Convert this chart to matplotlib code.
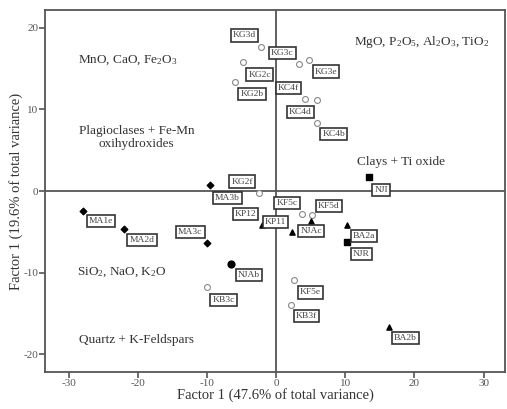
import matplotlib
matplotlib.use('Agg')
import matplotlib.pyplot as plt

plt.rcParams['font.family'] = ['Liberation Serif', 'DejaVu Serif']
plt.rcParams['mathtext.fontset'] = 'custom'
plt.rcParams['mathtext.rm'] = 'Liberation Serif'
plt.rcParams['mathtext.default'] = 'regular'
plt.rcParams['axes.unicode_minus'] = False

# Samples: open circles
open_names = ['KG3d', 'KG2c', 'KG2b', 'KG2f', 'KG3c', 'KG3e', 'KC4f', 'KC4d',
              'KC4b', 'KF5c', 'KF5d', 'KF5e', 'KB3f', 'KB3c']
open_x = [-2.2, -4.8, -5.9, -2.5, 3.3, 4.8, 4.2, 5.9, 5.9, 3.8, 5.2, 2.6, 2.2, -10.0]
open_y = [17.7, 15.8, 13.4, -0.2, 15.5, 16.0, 11.3, 11.2, 8.3, -2.8, -3.0, -10.9, -14.0, -11.8]

# filled diamonds
dia_names = ['MA1e', 'MA2d', 'MA3c', 'MA3b']
dia_x = [-27.9, -22.0, -10.0, -9.5]
dia_y = [-2.5, -4.6, -6.4, 0.7]

# filled circle
fc_names = ['NJAb']
fc_x = [-6.5]
fc_y = [-8.9]

# triangles
tri_names = ['KP12', 'KP11', 'NJAc', 'BA2a', 'BA2b']
tri_x = [-2.0, 2.3, 5.1, 10.3, 16.3]
tri_y = [-4.2, -5.0, -3.7, -4.2, -16.7]

# squares
sq_names = ['NJI', 'NJR']
sq_x = [13.4, 10.3]
sq_y = [1.7, -6.2]

# label offsets (points) from each marker
offsets = {
    'KG3d': (-12, 8), 'KG2c': (12, -9), 'KG2b': (12, -9), 'KG2f': (-12, 8),
    'KG3c': (-12, 8), 'KG3e': (12, -8), 'KC4f': (-12, 8), 'KC4d': (-12, -9),
    'KC4b': (12, -8), 'KF5c': (-11, 8), 'KF5d': (12, 7), 'KF5e': (12, -9),
    'KB3f': (11, -8), 'KB3c': (12, -9), 'MA1e': (13, -7), 'MA2d': (13, -8),
    'MA3c': (-12, 8), 'MA3b': (12, -9), 'NJAb': (13, -8), 'KP12': (-12, 8),
    'KP11': (-12, 7), 'NJAc': (0, -7), 'BA2a': (12, -8), 'BA2b': (12, -8),
    'NJR': (10, -9), 'NJI': (9, -9),
}

fig = plt.figure(figsize=(5.07, 4.09), dpi=100)
ax = fig.add_axes([0.089, 0.09, 0.907, 0.886])

gray = '#555555'
ax.axhline(0, color=gray, lw=1.3, zorder=1)
ax.axvline(0, color=gray, lw=1.3, zorder=1)

ax.scatter(open_x, open_y, s=18, facecolors='white', edgecolors='#888888', linewidths=0.8, zorder=3)
ax.scatter(dia_x, dia_y, s=11, marker='D', color='black', zorder=3)
ax.scatter(fc_x, fc_y, s=24, marker='o', color='black', zorder=3)
ax.scatter(tri_x, tri_y, s=14, marker='^', color='black', zorder=3)
ax.scatter(sq_x, sq_y, s=14, marker='s', color='black', zorder=3)

box = dict(boxstyle='square,pad=0.22', fc='white', ec='#333333', lw=1.2)
for names, xs, ys in [(open_names, open_x, open_y), (dia_names, dia_x, dia_y),
                      (fc_names, fc_x, fc_y), (tri_names, tri_x, tri_y),
                      (sq_names, sq_x, sq_y)]:
    for n, x, y in zip(names, xs, ys):
        ax.annotate(n, (x, y), xytext=offsets[n], textcoords='offset points',
                    ha='center', va='center', fontsize=6.8, color='#444444',
                    bbox=box, zorder=4)

tc = '#333333'
ax.text(-21.4, 16.0, 'MnO, CaO, Fe$_2$O$_3$', ha='center', va='center', fontsize=9.5, color=tc)
ax.text(-20.2, 6.6, 'Plagioclases + Fe-Mn\noxihydroxides', ha='center', va='center',
        fontsize=9.5, color=tc, linespacing=1.1)
ax.text(21.1, 18.2, 'MgO, P$_2$O$_5$, Al$_2$O$_3$, TiO$_2$', ha='center', va='center', fontsize=9.5, color=tc)
ax.text(18.1, 3.5, 'Clays + Ti oxide', ha='center', va='center', fontsize=9.5, color=tc)
ax.text(-22.3, -10.0, 'SiO$_2$, NaO, K$_2$O', ha='center', va='center', fontsize=9.5, color=tc)
ax.text(-20.2, -18.2, 'Quartz + K-Feldspars', ha='center', va='center', fontsize=9.5, color=tc)

ax.set_xlim(-33.4, 33.1)
ax.set_ylim(-22.2, 22.2)
ax.set_xticks([-30, -20, -10, 0, 10, 20, 30])
ax.set_yticks([-20, -10, 0, 10, 20])
ax.tick_params(direction='out', length=4, width=1.2, color=gray, labelsize=8, labelcolor='#555555', pad=1)
for sp in ax.spines.values():
    sp.set_color(gray)
    sp.set_linewidth(1.3)
ax.set_xlabel('Factor 1 (47.6% of total variance)', fontsize=10.5, color=tc, labelpad=0)
ax.set_ylabel('Factor 1 (19.6% of total variance)', fontsize=10.5, color=tc, labelpad=0)

fig.savefig('out.png', dpi=100)
